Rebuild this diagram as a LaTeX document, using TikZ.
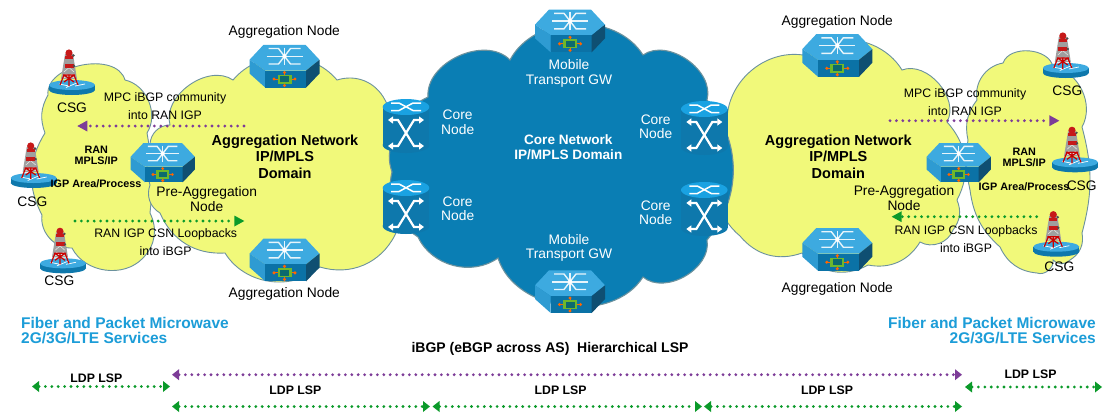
\documentclass[tikz,border=0pt]{standalone}
\usepackage{fontspec}
\setmainfont{Liberation Sans}
\usetikzlibrary{arrows.meta}
\definecolor{yellowcloud}{HTML}{F1F97A}
\definecolor{bluecloud}{HTML}{0A7EB4}
\definecolor{cloudedge}{HTML}{6C929E}
\definecolor{hextop}{HTML}{3DAAE0}
\definecolor{hexleft}{HTML}{2E9BD2}
\definecolor{hexfront}{HTML}{0B72A6}
\definecolor{hexright}{HTML}{0F4F72}
\definecolor{cyltop}{HTML}{1AA2E2}
\definecolor{cylbody}{HTML}{0E78AC}
\definecolor{servicetext}{HTML}{1C9DD8}
\definecolor{dotpurple}{HTML}{7D3C98}
\definecolor{dotgreen}{HTML}{0B9A2A}
\definecolor{chipouter}{HTML}{6DB82C}
\definecolor{chipinner}{HTML}{0C6A6E}
\begin{document}
\begin{tikzpicture}[
		x=1pt,y=-1pt,
		yellowblob/.style={draw=cloudedge,fill=yellowcloud,line width=.9pt},
		blueblob/.style={draw=cloudedge,fill=bluecloud,line width=1.1pt},
		lbl/.style={inner sep=0pt,align=center,font=\fontsize{13.8}{14.4}\selectfont},
		small lbl/.style={inner sep=0pt,align=center,font=\fontsize{12.3}{18}\selectfont},
		white lbl/.style={lbl,text=white},
		net lbl/.style={inner sep=0pt,align=center,font=\bfseries\fontsize{14.5}{16.6}\selectfont},
		ran lbl/.style={inner sep=0pt,align=center,font=\bfseries\fontsize{10.8}{11}\selectfont},
		lsp lbl/.style={inner sep=0pt,font=\bfseries\fontsize{12.3}{14}\selectfont},
		service lbl/.style={inner sep=0pt,text=servicetext,font=\bfseries\fontsize{15.5}{15}\selectfont},
		purple dots/.style={draw=dotpurple,line width=3.1pt,line cap=round,dash pattern=on 0pt off 6.4pt},
		green dots/.style={draw=dotgreen,line width=3.1pt,line cap=round,dash pattern=on 0pt off 6.4pt},
		purple head/.style={-{Triangle[length=10pt,width=11pt,fill=dotpurple,line width=0pt]}},
		green head/.style={-{Triangle[length=10pt,width=11pt,fill=dotgreen,line width=0pt]}},
		purple span/.style={{Triangle[length=7pt,width=11pt,fill=dotpurple,line width=0pt]}-{Triangle[length=7pt,width=11pt,fill=dotpurple,line width=0pt]}},
		green span/.style={{Triangle[length=7pt,width=11pt,fill=dotgreen,line width=0pt]}-{Triangle[length=7pt,width=11pt,fill=dotgreen,line width=0pt]}},
		hexnode/.pic={
				\fill[hextop] (-35,-6.7) -- (-21,-21.7) -- (21,-21.7) -- (35,-6.7) -- (21.7,4) -- (-19.3,4) -- cycle;
				\fill[hexleft] (-35,-6.7) -- (-19.3,4) -- (-19.3,21) -- (-35,7) -- cycle;
				\fill[hexfront] (-19.3,4) -- (21.7,4) -- (21.7,21) -- (-19.3,21) -- cycle;
				\fill[hexright] (35,-6.7) -- (21.7,4) -- (21.7,21) -- (35,7) -- cycle;
				\draw[white!88!hextop,line width=1.4pt] (-16,-18) -- (-6,-18) -- (6,-2.5) -- (16,-2.5);
				\draw[white!88!hextop,line width=1.4pt] (16,-18) -- (6,-18) -- (-6,-2.5) -- (-16,-2.5);
				\draw[white!88!hextop,line width=1.4pt] (-18,-10.2) -- (18,-10.2);
				\draw[white!88!hextop,line width=1.2pt] (0,-19) -- (0,-1.5);
				\fill[white] (0,-10.2) circle (2.2);
				\draw[orange!80!red,line width=.9pt] (-11,12.5) -- (11,12.5) (0,5.5) -- (0,19.5);
				\fill[orange!80!red] (-10.5,12.5) circle (1.7) (10.5,12.5) circle (1.7) (0,6) circle (1.7) (0,19) circle (1.7);
				\fill[chipouter] (-7,8) rectangle (7,17);
				\fill[chipinner] (-4.5,9.5) rectangle (4.5,15.5);
			},
		corenode/.pic={
				\fill[cylbody] (0,38) circle [x radius=23.3,y radius=8];
				\fill[cylbody] (-23.3,0) rectangle (23.3,38);
				\fill[cyltop] (0,0) circle [x radius=23.3,y radius=8];
				\draw[white,line width=2.2pt,{Triangle[length=5pt,width=7pt]}-{Triangle[length=5pt,width=7pt]}] (-18,13) -- (-8,13) -- (8,39) -- (18,39);
				\draw[white,line width=2.2pt,{Triangle[length=5pt,width=7pt]}-{Triangle[length=5pt,width=7pt]}] (18,13) -- (8,13) -- (-8,39) -- (-18,39);
				\draw[white,line width=1.5pt] (-15,-4) -- (-7,-4) -- (7,3.5) -- (15,3.5);
				\draw[white,line width=1.5pt] (15,-4) -- (7,-4) -- (-7,3.5) -- (-15,3.5);
			},
		csgnode/.pic={
				\fill[cylbody] (0,5) circle [x radius=23,y radius=5];
				\fill[cylbody] (-23,0) rectangle (23,5);
				\fill[hextop] (0,0) circle [x radius=23,y radius=5];
				\draw[white,line width=.7pt] (-13,-1) -- (-3,1) (13,-1) -- (3,1) (-6,2.5) -- (0,0) -- (6,-2.5);
				\fill[gray!75] (-7,-31) -- (1,-31) -- (5,-6) -- (-11,-6) -- cycle;
				\draw[white!85!gray,line width=.5pt] (-6,-20) -- (2,-13) (0,-20) -- (-8,-13) (-7,-11) -- (3,-7) (1,-11) -- (-9,-7);
				\fill[red!75!black!90!white] (-3,-32) circle (3.6);
				\fill[red!75!black!90!white] (-7,-29) rectangle (1,-26);
				\fill[red!75!black!90!white] (-7.5,-21) rectangle (1.5,-17);
				\fill[gray!60!black] (1.5,-29.5) circle (1.3) (2,-19) circle (1.3);
				\draw[red!80!black,line width=1.2pt] (-9,-10) -- (3,-10) (-8,-10) -- (-12,0) (2,-10) -- (6,0) (-3,-10) -- (-3,1) (-8,-10) -- (2,-3) (2,-10) -- (-8,-3);
			}
	]
	\useasboundingbox (0,0) rectangle (1103,413);
	\fill[white] (0,0) rectangle (1103,413);

	\draw[yellowblob] (45,133) to[bend left=25] (48,95) to[bend left=85] (125,80) to[bend left=55] (147,133) to[bend left=8] (150,213) to[bend left=35] (143,258) to[bend left=55] (72,248) to[bend left=50] (42,215) to[bend left=30] (45,133) -- cycle;
	\draw[yellowblob] (150,145) to[bend left=45] (170,125) to[bend left=70] (233,80) to[bend left=50] (337,80) to[bend left=40] (385,100) to[bend left=25] (395,235) to[bend left=40] (320,267) to[bend left=50] (225,253) to[bend left=35] (160,213) to[bend left=40] (150,185) to[bend left=15] (150,145) -- cycle;
	\draw[yellowblob] (968,140) to[bend left=25] (977,100) to[bend left=45] (1003,63) to[bend left=75] (1053,67) to[bend left=55] (1082,127) to[bend left=15] (1082,233) to[bend left=35] (1070,260) to[bend left=50] (1053,260) to[bend left=60] (1037,273) to[bend left=30] (1000,247) to[bend left=20] (970,190) to[bend left=10] (968,140) -- cycle;
	\draw[yellowblob] (727,123) to[bend left=50] (803,55) to[bend left=50] (902,70) to[bend left=70] (947,122) to[bend left=35] (957,200) to[bend left=30] (953,230) to[bend left=50] (920,242) to[bend left=35] (868,265) to[bend left=40] (802,253) to[bend left=35] (740,236) to[bend left=35] (722,170) to[bend left=25] (727,123) -- cycle;
	\draw[blueblob] (428,97) to[bend left=70] (510,60) to[bend left=60] (643,55) to[bend left=70] (707,100) to[bend left=40] (707,240) to[bend left=70] (643,277) to[bend left=65] (498,258) to[bend left=50] (418,237) to[bend left=35] (392,172) to[bend left=20] (393,140) to[bend left=25] (428,97) -- cycle;

	\pic (aggtopleft) at (284.5,66.5) {hexnode};
	\pic (aggbotleft) at (284.5,260.3) {hexnode};
	\pic (gwtop) at (570,31.3) {hexnode};
	\pic (gwbot) at (570,292) {hexnode};
	\pic (aggtopright) at (837.3,55.8) {hexnode};
	\pic (aggbotright) at (837.3,249.7) {hexnode};
	\pic[scale=.92] (preaggleft) at (162.7,163) {hexnode};
	\pic[scale=.92] (preaggright) at (958.7,163) {hexnode};

	\pic (coretopleft) at (406,107) {corenode};
	\pic (corebotleft) at (406,188) {corenode};
	\pic (coretopright) at (704.3,109) {corenode};
	\pic (corebotright) at (704.3,190) {corenode};

	\pic (csgtopleft) at (72,85) {csgnode};
	\pic (csgmidleft) at (33.7,178) {csgnode};
	\pic (csgbotleft) at (63,263.3) {csgnode};
	\pic (csgtopright) at (1065.8,68) {csgnode};
	\pic (csgmidright) at (1075,162.3) {csgnode};
	\pic (csgbotright) at (1056.3,246.7) {csgnode};

	\node[lbl] (agglabel1) at (284.3,32) {Aggregation Node};
	\node[lbl] (agglabel2) at (284.3,293.5) {Aggregation Node};
	\node[lbl] (agglabel3) at (837.3,22) {Aggregation Node};
	\node[lbl] (agglabel4) at (837.3,289) {Aggregation Node};
	\node[lbl] (prelabel1) at (206.7,199) {Pre-Aggregation\\Node};
	\node[lbl] (prelabel2) at (904,198) {Pre-Aggregation\\Node};
	\node[lbl] (csglabel1) at (72,108) {CSG};
	\node[lbl] (csglabel2) at (32.3,201.3) {CSG};
	\node[lbl] (csglabel3) at (59.3,280.7) {CSG};
	\node[lbl] (csglabel4) at (1067.3,91) {CSG};
	\node[lbl] (csglabel5) at (1081.7,185.3) {CSG};
	\node[lbl] (csglabel6) at (1059.3,266.7) {CSG};

	\node[white lbl] (gwlabel1) at (569,73.5) {Mobile\\Transport GW};
	\node[white lbl] (gwlabel2) at (569,248) {Mobile\\Transport GW};
	\node[white lbl] (corelabel1) at (457.7,122.3) {Core\\Node};
	\node[white lbl] (corelabel2) at (457.7,208.8) {Core\\Node};
	\node[white lbl] (corelabel3) at (655.7,126.6) {Core\\Node};
	\node[white lbl] (corelabel4) at (655.7,213) {Core\\Node};
	\node[inner sep=0pt,align=center,text=white,font=\bfseries\fontsize{13.6}{15}\selectfont] (corenet) at (568.3,147.5) {Core Network\\IP/MPLS Domain};

	\node[net lbl] (netleft) at (285,156.5) {Aggregation Network\\IP/MPLS\\Domain};
	\node[net lbl] (netright) at (838.3,156.5) {Aggregation Network\\IP/MPLS\\Domain};
	\node[ran lbl] (ranleft) at (96.3,155.4) {RAN\\MPLS/IP};
	\node[ran lbl] (ranright) at (1024.3,157.5) {RAN\\MPLS/IP};
	\node[ran lbl] (igpleft) at (96,184) {IGP Area/Process};
	\node[ran lbl] (igpright) at (1024,186.7) {IGP Area/Process};

	\node[small lbl] (mpcleft) at (165,105.7) {MPC iBGP community\\into RAN IGP};
	\node[small lbl] (mpcright) at (965,101.7) {MPC iBGP community\\into RAN IGP};
	\node[small lbl] (loopleft) at (165.7,242.3) {RAN IGP CSN Loopbacks\\into iBGP};
	\node[small lbl] (loopright) at (966,239.2) {RAN IGP CSN Loopbacks\\into iBGP};

	\coordinate (mpcleftfrom) at (244,126);
	\coordinate (mpcleftto) at (77.3,126);
	\coordinate (loopleftfrom) at (75,221);
	\coordinate (loopleftto) at (244.3,221);
	\coordinate (mpcrightfrom) at (890,120.7);
	\coordinate (mpcrightto) at (1059.3,120.7);
	\coordinate (looprightfrom) at (1036.7,216.7);
	\coordinate (looprightto) at (891.7,216.7);
	\draw[purple dots,purple head] (mpcleftfrom) -- (mpcleftto);
	\draw[green dots,green head] (loopleftfrom) -- (loopleftto);
	\draw[purple dots,purple head] (mpcrightfrom) -- (mpcrightto);
	\draw[green dots,green head] (looprightfrom) -- (looprightto);

	\node[service lbl,anchor=west] (serviceleft1) at (21,323.3) {Fiber and Packet Microwave};
	\node[service lbl,anchor=west] (serviceleft2) at (21,338.3) {2G/3G/LTE Services};
	\node[service lbl,anchor=east] (serviceright1) at (1096,323.3) {Fiber and Packet Microwave};
	\node[service lbl,anchor=east] (serviceright2) at (1096,338.3) {2G/3G/LTE Services};
	\node[inner sep=0pt,font=\bfseries\fontsize{14}{14}\selectfont] (hierlabel) at (550,349) {iBGP (eBGP across AS)\ \ Hierarchical LSP};

	\node[lsp lbl] (lsp1) at (96.4,378) {LDP LSP};
	\node[lsp lbl] (lsp2) at (295.4,390.7) {LDP LSP};
	\node[lsp lbl] (lsp3) at (560.6,390.7) {LDP LSP};
	\node[lsp lbl] (lsp4) at (827,390.7) {LDP LSP};
	\node[lsp lbl] (lsp5) at (1030.5,374.3) {LDP LSP};

	\coordinate (edgeleft) at (32,386.5);
	\coordinate (csgend) at (170,386.5);
	\coordinate (hierfrom) at (172,374.7);
	\coordinate (hierto) at (962,374.7);
	\coordinate (rowa) at (172,406.5);
	\coordinate (rowb) at (430,406.5);
	\coordinate (rowc) at (432.5,406.5);
	\coordinate (rowd) at (702,406.5);
	\coordinate (rowe) at (704,406.5);
	\coordinate (rowf) at (962,406.5);
	\coordinate (csgstart) at (965,387);
	\coordinate (edgeright) at (1102,387);
	\draw[green dots,green span] (edgeleft) -- (csgend);
	\draw[purple dots,purple span] (hierfrom) -- (hierto);
	\draw[green dots,green span] (rowa) -- (rowb);
	\draw[green dots,green span] (rowc) -- (rowd);
	\draw[green dots,green span] (rowe) -- (rowf);
	\draw[green dots,green span] (csgstart) -- (edgeright);
\end{tikzpicture}
\end{document}
